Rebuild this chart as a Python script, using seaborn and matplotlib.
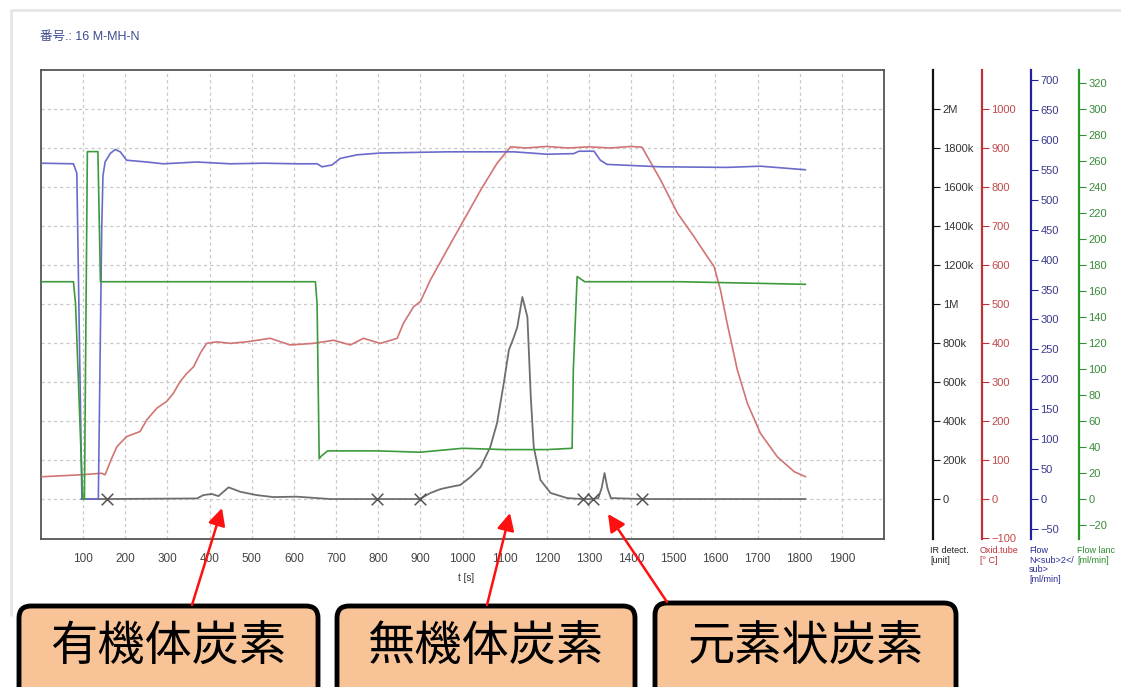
import numpy as np
import pandas as pd
import seaborn as sns
import matplotlib.pyplot as plt
from matplotlib.patches import FancyBboxPatch

sns.set_style("white")
plt.rcParams['font.family'] = ['Liberation Sans', 'Noto Sans CJK JP', 'DejaVu Sans']

# IR detector signal [unit]
ir_t = [95, 157, 300, 370, 385, 405, 421, 445, 473, 512, 551, 607, 686, 797, 898,
        924, 948, 971, 995, 1019, 1043, 1066, 1082, 1098, 1110, 1122, 1130, 1142,
        1154, 1162, 1169, 1185, 1209, 1248, 1285, 1310, 1322, 1330, 1337, 1344,
        1352, 1426, 1814]
ir_v = [0, 0, 2e3, 3e3, 20e3, 26e3, 15e3, 60e3, 37e3, 20e3, 10e3, 12e3, 0, 0, 0,
        31e3, 51e3, 62e3, 72e3, 113e3, 164e3, 267e3, 390e3, 595e3, 764e3, 831e3,
        882e3, 1036e3, 933e3, 523e3, 267e3, 97e3, 31e3, 5e3, 0, 0, 5e3, 55e3,
        133e3, 55e3, 5e3, 0, 0]
mark_t = [157, 797, 898, 1285, 1310, 1426]

# oxidation tube temperature [°C]
ox_t = [2, 93, 144, 152, 168, 180, 203, 235, 251, 275, 298, 314, 330, 346, 362,
        378, 393, 417, 449, 488, 544, 591, 646, 694, 734, 765, 805, 845, 860, 884,
        900, 924, 963, 1003, 1043, 1082, 1114, 1150, 1200, 1250, 1300, 1350, 1400,
        1426, 1470, 1510, 1549, 1581, 1597, 1612, 1628, 1652, 1676, 1707, 1747,
        1787, 1814]
ox_v = [57, 62, 66, 62, 105, 134, 160, 173, 203, 233, 250, 271, 301, 322, 339,
        374, 399, 403, 399, 403, 412, 395, 399, 407, 395, 412, 399, 412, 451, 493,
        506, 562, 638, 715, 792, 861, 903, 900, 904, 900, 903, 900, 904, 902, 818,
        733, 673, 621, 596, 536, 450, 331, 245, 168, 108, 70, 57]

# flow N2 [ml/min]
n2_t = [2, 77, 85, 97, 136, 144, 147, 152, 164, 176, 188, 203, 251, 290, 370, 449,
        528, 607, 655, 667, 690, 710, 750, 805, 963, 1122, 1201, 1264, 1276, 1312,
        1327, 1343, 1438, 1470, 1628, 1707, 1814]
n2_v = [561, 560, 544, 0, 0, 449, 540, 563, 577, 584, 580, 566, 563, 560, 563, 560,
        561, 560, 560, 555, 558, 569, 575, 578, 580, 580, 576, 577, 581, 581, 566,
        559, 556, 555, 554, 556, 550]

# flow lance [ml/min]
ln_t = [2, 77, 82, 99, 103, 110, 135, 141, 651, 655, 660, 665, 680, 800, 900, 1000,
        1100, 1200, 1260, 1263, 1272, 1290, 1517, 1814]
ln_v = [167, 167, 150, 0, 0, 267, 267, 167, 167, 150, 31, 33, 37, 37, 36, 39, 38,
        38, 39, 100, 171, 167, 167, 165]

x_ticks = list(range(100, 2000, 100))
ir_ticks = [0, 200e3, 400e3, 600e3, 800e3, 1e6, 1.2e6, 1.4e6, 1.6e6, 1.8e6, 2e6]
ir_labels = ['0', '200k', '400k', '600k', '800k', '1M', '1200k', '1400k', '1600k',
             '1800k', '2M']
ox_ticks = list(range(-100, 1001, 100))
n2_ticks = list(range(-50, 701, 50))
ln_ticks = list(range(-20, 321, 20))

W, H = 1121, 687
fig = plt.figure(figsize=(W / 100, H / 100), dpi=100)
fig.patch.set_facecolor('white')

ax = fig.add_axes([41 / W, 1 - 539 / H, 843 / W, 469 / H])
ax.set_xlim(0, 2000)
ax.set_ylim(-205e3, 2200e3)
ax.set_xticks(x_ticks)
ax.set_yticks(ir_ticks)
ax.grid(True, color='#c8c8c8', linestyle=(0, (2.5, 2.5)), linewidth=0.9)
for s in ax.spines.values():
    s.set_color('#555')
    s.set_linewidth(1.3)

sns.lineplot(x=ir_t, y=ir_v, ax=ax, color='#6e6e6e', linewidth=1.3,
             estimator=None, sort=False, legend=False)
sns.scatterplot(x=mark_t, y=[0] * len(mark_t), ax=ax, marker='x', s=70,
                color='#555', linewidth=1.1, legend=False, zorder=5)

scales = [
    ('ir', 1.058, (-205e3, 2200e3), ir_ticks, ir_labels, '#111', '#333'),
    ('ox', 1.116, (-102.6, 1100), ox_ticks, [str(v) for v in ox_ticks], '#c0303a', '#c04a4a'),
    ('n2', 1.174, (-66.8, 716.7), n2_ticks, [str(v) for v in n2_ticks], '#2020a0', '#3a3a8a'),
    ('ln', 1.231, (-30.7, 329.7), ln_ticks, [str(v) for v in ln_ticks], '#2a962a', '#3a8a3a'),
]
twins = {}
for name, pos, lim, ticks, labels, scol, lcol in scales:
    tw = ax.twinx()
    tw.set_ylim(*lim)
    for k in ['left', 'top', 'bottom']:
        tw.spines[k].set_visible(False)
    tw.spines['right'].set_position(('axes', pos))
    tw.spines['right'].set_color(scol)
    tw.spines['right'].set_linewidth(1.6)
    tw.set_yticks(ticks)
    tw.set_yticklabels([l.replace('-', '\u2212') for l in labels])
    tw.tick_params(axis='y', direction='out', length=5, color=scol, labelcolor=lcol,
                   labelsize=8, pad=2)
    twins[name] = tw

sns.lineplot(x=ln_t, y=ln_v, ax=twins['ln'], color='#3d9a3d', linewidth=1.2,
             estimator=None, sort=False, legend=False)
sns.lineplot(x=ox_t, y=ox_v, ax=twins['ox'], color='#d27474', linewidth=1.2,
             estimator=None, sort=False, legend=False)
sns.lineplot(x=n2_t, y=n2_v, ax=twins['n2'], color='#6a6acb', linewidth=1.2,
             estimator=None, sort=False, legend=False)
for tw in twins.values():
    tw.set_xlabel('')
    tw.set_ylabel('')

# twinx turns the left ticks back on, so switch them off afterwards
ax.tick_params(axis='y', left=False, right=False, labelleft=False, labelright=False)
ax.tick_params(axis='x', direction='out', length=4, color='#555', labelsize=8.5,
               labelcolor='#444', pad=6)
ax.set_xlabel('')
ax.set_ylabel('')

# axis captions under the right-hand scales
captions = [
    (930, 'IR detect.\n[unit]', '#222'),
    (980, 'Oxid.tube\n[\u00b0 C]', '#c0303a'),
    (1029, 'Flow\nN<sub>2</\nsub>\n[ml/min]', '#2a2a9a'),
    (1077, 'Flow lanc\n[ml/min]', '#2a8a2a'),
]
for px, txt, col in captions:
    fig.text(px / W, 1 - 546 / H, txt, ha='left', va='top', fontsize=6.5,
             color=col, linespacing=1.1)

fig.text(466 / W, 1 - 578 / H, 't [s]', ha='center', va='center', fontsize=7,
         color='#333')
fig.text(40 / W, 1 - 37 / H, '番号.: 16 M-MH-N', ha='left', va='center',
         fontsize=9, color='#3c4a8c')

# overlay in pixel coordinates for the callouts
ov = fig.add_axes([0, 0, 1, 1], zorder=10)
ov.set_xlim(0, W)
ov.set_ylim(H, 0)
ov.axis('off')
ov.patch.set_alpha(0)

ov.plot([11, 11, W], [615, 10, 10], color='#e6e6e6', linewidth=2)

boxes = [(17, 604, 303, '有機体炭素'), (335, 604, 302, '無機体炭素'),
         (653, 601, 305, '元素状炭素')]
for bx, by, bw, label in boxes:
    ov.add_patch(FancyBboxPatch((bx + 2, by + 2), bw - 4, 120,
                                boxstyle='round,pad=0,rounding_size=12',
                                facecolor='#f8c396', edgecolor='black',
                                linewidth=3.5, clip_on=False))
    ov.text(bx + bw / 2, 648, label, ha='center', va='center', fontsize=34,
            color='black', family=['Noto Sans CJK JP', 'DejaVu Sans'])

arrows = [((222, 508), (192, 605)), ((510, 513), (487, 605)),
          ((608, 514), (667, 602))]
for tip, tail in arrows:
    ov.annotate('', xy=tip, xytext=tail,
                arrowprops=dict(arrowstyle='-|>', color='#ff1010', lw=1.8,
                                mutation_scale=26, shrinkA=0, shrinkB=0))

fig.savefig('out.png', dpi=100)
